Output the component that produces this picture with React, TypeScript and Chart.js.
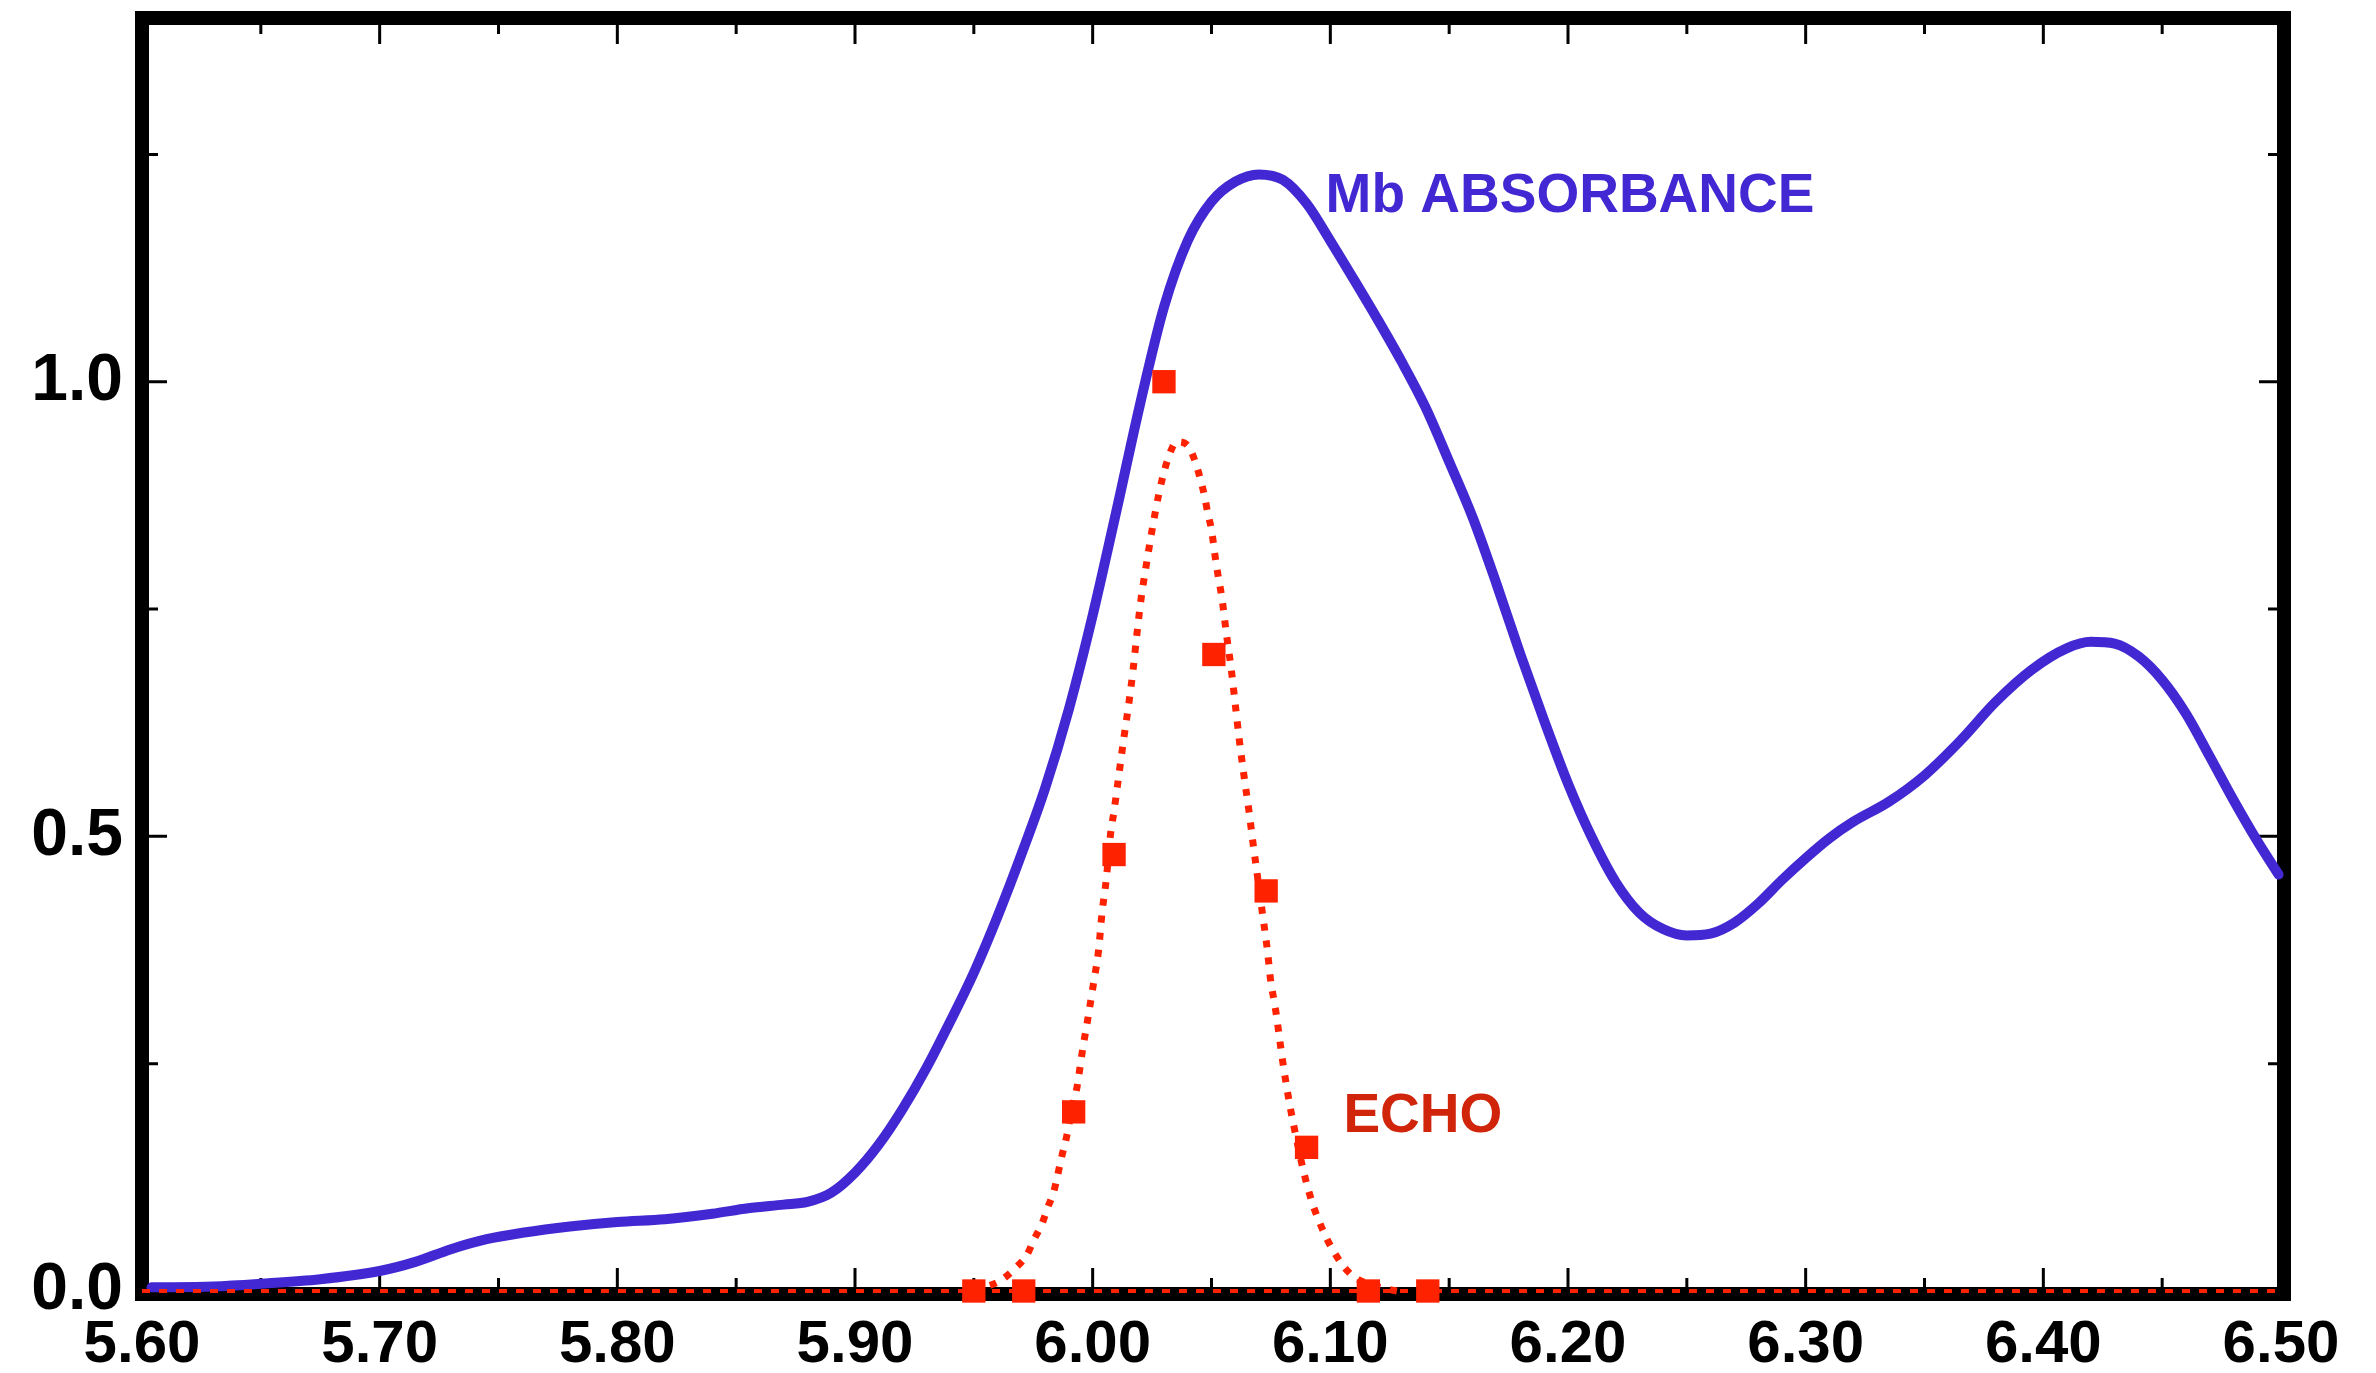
import React, { useEffect, useRef } from 'react';
import { Chart, registerables } from 'chart.js';

Chart.register(...registerables);

// ---- Data ----
const absorbanceX = [
  5.604, 5.63, 5.65, 5.675, 5.7, 5.715, 5.73, 5.745, 5.76, 5.78, 5.8, 5.82, 5.84, 5.855, 5.87, 5.88,
  5.89, 5.9, 5.91, 5.92, 5.93, 5.94, 5.95, 5.96, 5.97, 5.98, 5.99, 6.0, 6.01, 6.02, 6.03, 6.04, 6.05,
  6.06, 6.07, 6.08, 6.09, 6.1, 6.11, 6.12, 6.13, 6.14, 6.15, 6.16, 6.17, 6.18, 6.19, 6.2, 6.21, 6.22,
  6.23, 6.24, 6.25, 6.26, 6.27, 6.28, 6.29, 6.3, 6.31, 6.32, 6.335, 6.35, 6.365, 6.38, 6.395, 6.41,
  6.42, 6.43, 6.44, 6.45, 6.46, 6.47, 6.48, 6.49, 6.499,
];
const absorbanceY = [
  0.004, 0.005, 0.008, 0.013, 0.022, 0.032, 0.046, 0.057, 0.064, 0.071, 0.076, 0.079, 0.085, 0.091, 0.095, 0.098,
  0.108, 0.13, 0.161, 0.2, 0.245, 0.296, 0.35, 0.412, 0.48, 0.553, 0.64, 0.743, 0.858, 0.976, 1.082, 1.155, 1.198,
  1.22, 1.228, 1.222, 1.196, 1.155, 1.112, 1.068, 1.022, 0.972, 0.912, 0.85, 0.777, 0.7, 0.627, 0.558, 0.499, 0.45,
  0.416, 0.398, 0.391, 0.393, 0.405, 0.426, 0.452, 0.476, 0.498, 0.516, 0.538, 0.567, 0.605, 0.648, 0.683, 0.707,
  0.714, 0.712, 0.698, 0.672, 0.635, 0.588, 0.54, 0.495, 0.458,
];

const echoFitX = [
  5.95, 5.9555, 5.961, 5.9674, 5.9724, 5.9752, 5.9787, 5.9811, 5.9836, 5.9853, 5.9871, 5.9889, 5.991,
  5.9934, 5.9955, 5.998, 6.0004, 6.0025, 6.0039, 6.0057, 6.0075, 6.009, 6.011, 6.013, 6.0151, 6.017,
  6.0186, 6.0203, 6.0226, 6.025, 6.0278, 6.0313, 6.0355, 6.04, 6.0433, 6.0453, 6.047, 6.0484, 6.05,
  6.052, 6.0545, 6.0563, 6.0583, 6.06, 6.0617, 6.0636, 6.0657, 6.0675, 6.0695, 6.0715, 6.0735, 6.075,
  6.0763, 6.0775, 6.0785, 6.0795, 6.0805, 6.0816, 6.0829, 6.0843, 6.0865, 6.0888, 6.0908, 6.0929,
  6.0957, 6.0988, 6.102, 6.1056, 6.1098, 6.1168, 6.1224, 6.128,
];
const echoFitY = [
  0.0, 0.005, 0.011, 0.025, 0.04, 0.056, 0.074, 0.092, 0.109, 0.128, 0.149, 0.168, 0.197,
  0.224, 0.261, 0.3, 0.339, 0.375, 0.415, 0.452, 0.502, 0.528, 0.567, 0.606, 0.644, 0.683,
  0.722, 0.76, 0.799, 0.837, 0.876, 0.912, 0.934, 0.93, 0.911, 0.893, 0.875, 0.856, 0.837,
  0.799, 0.76, 0.722, 0.684, 0.645, 0.606, 0.568, 0.529, 0.492, 0.453, 0.414, 0.375, 0.339,
  0.32, 0.3, 0.28, 0.261, 0.243, 0.225, 0.205, 0.186, 0.158, 0.131, 0.111, 0.093,
  0.074, 0.056, 0.041, 0.027, 0.016, 0.007, 0.003, 0.0,
];

const echoPointX = [5.95, 5.971, 5.992, 6.009, 6.03, 6.051, 6.073, 6.09, 6.116, 6.141];
const echoPointY = [0.0, 0.0, 0.197, 0.48, 1.0, 0.7, 0.44, 0.158, 0.0, 0.0];

const baselineX = [5.6, 6.5];
const baselineY = [0, 0];

const xTickValues = [5.6, 5.7, 5.8, 5.9, 6.0, 6.1, 6.2, 6.3, 6.4, 6.5];
const xTickLabels = ['5.60', '5.70', '5.80', '5.90', '6.00', '6.10', '6.20', '6.30', '6.40', '6.50'];
const xMinorTicks = [5.65, 5.75, 5.85, 5.95, 6.05, 6.15, 6.25, 6.35, 6.45];
const yTickValues = [0, 0.5, 1.0];
const yTickLabels = ['0.0', '0.5', '1.0'];
const yMinorTicks = [0.25, 0.75, 1.25];

const X_MIN = 5.6;
const X_MAX = 6.5;
const Y_MIN = 0;
const Y_MAX = 1.4;

const absorbanceLabel = 'Mb ABSORBANCE';
const absorbanceLabelAt = { x: 6.098, y: 1.187 };
const echoLabel = 'ECHO';
const echoLabelAt = { x: 6.1055, y: 0.175 };

// ---- Styles ----
const BLUE = '#4228D2';
const RED = '#FF2200';
const ECHO_TEXT = '#D0240B';
const FONT = '"Liberation Sans", Arial, sans-serif';

const zip = (xs: number[], ys: number[]) => xs.map((x, i) => ({ x, y: ys[i] }));

const framePlugin = {
  id: 'frameAndTicks',
  beforeDatasetsDraw(chart: any) {
    const { ctx, chartArea: a, scales } = chart;
    const xs = scales.x;
    const ys = scales.y;
    const L = a.left;
    const T = a.top;
    const R = a.right + 3;
    const B = a.bottom + 3;
    const half = 7;
    ctx.save();
    ctx.strokeStyle = '#000';
    ctx.lineJoin = 'miter';
    ctx.lineWidth = 14;
    ctx.strokeRect(L, T, R - L, B - T);
    ctx.lineWidth = 3;
    ctx.lineCap = 'butt';
    ctx.beginPath();
    const xTick = (v: number, len: number) => {
      const px = xs.getPixelForValue(v);
      ctx.moveTo(px, B - half);
      ctx.lineTo(px, B - half - len);
      ctx.moveTo(px, T + half);
      ctx.lineTo(px, T + half + len);
    };
    const yTick = (v: number, len: number) => {
      const py = ys.getPixelForValue(v);
      ctx.moveTo(L + half, py);
      ctx.lineTo(L + half + len, py);
      ctx.moveTo(R - half, py);
      ctx.lineTo(R - half - len, py);
    };
    xTickValues.forEach((v) => xTick(v, 19));
    xMinorTicks.forEach((v) => xTick(v, 9));
    yTickValues.forEach((v) => yTick(v, 18));
    yMinorTicks.forEach((v) => yTick(v, 9));
    ctx.stroke();
    ctx.restore();
  },
};

const labelPlugin = {
  id: 'curveLabels',
  afterDatasetsDraw(chart: any) {
    const { ctx, scales } = chart;
    const xs = scales.x;
    const ys = scales.y;
    ctx.save();
    ctx.textAlign = 'left';
    ctx.textBaseline = 'alphabetic';
    ctx.font = `bold 55px ${FONT}`;
    ctx.fillStyle = BLUE;
    ctx.fillText(absorbanceLabel, xs.getPixelForValue(absorbanceLabelAt.x), ys.getPixelForValue(absorbanceLabelAt.y));
    ctx.fillStyle = ECHO_TEXT;
    ctx.fillText(echoLabel, xs.getPixelForValue(echoLabelAt.x), ys.getPixelForValue(echoLabelAt.y));
    ctx.restore();
  },
};

export default function App() {
  const canvasRef = useRef<HTMLCanvasElement | null>(null);

  useEffect(() => {
    const canvas = canvasRef.current;
    if (!canvas) return;
    const chart = new Chart(canvas, {
      type: 'line',
      data: {
        datasets: [
          {
            label: 'Echo points',
            data: zip(echoPointX, echoPointY),
            showLine: false,
            pointStyle: 'rect',
            pointRadius: 16.5,
            pointBorderWidth: 0,
            pointBackgroundColor: RED,
            borderColor: RED,
            backgroundColor: RED,
            clip: false,
          },
          {
            label: 'Echo fit',
            data: zip(echoFitX, echoFitY),
            borderColor: RED,
            borderWidth: 7,
            borderDash: [7, 10],
            borderCapStyle: 'butt',
            pointRadius: 0,
            cubicInterpolationMode: 'monotone',
            fill: false,
            clip: false,
          },
          {
            label: 'Echo baseline',
            data: zip(baselineX, baselineY),
            borderColor: RED,
            borderWidth: 4,
            borderDash: [8, 9],
            pointRadius: 0,
            fill: false,
            clip: false,
          },
          {
            label: 'Mb absorbance',
            data: zip(absorbanceX, absorbanceY),
            borderColor: BLUE,
            borderWidth: 10,
            borderCapStyle: 'round',
            borderJoinStyle: 'round',
            pointRadius: 0,
            cubicInterpolationMode: 'monotone',
            fill: false,
            clip: false,
          },
        ],
      },
      options: {
        responsive: false,
        animation: false,
        events: [],
        layout: { padding: { top: 18, right: 95, left: 0, bottom: 0 } },
        plugins: {
          legend: { display: false },
          tooltip: { enabled: false },
          title: { display: false },
        },
        scales: {
          x: {
            type: 'linear',
            position: 'bottom',
            min: X_MIN,
            max: X_MAX,
            grid: { display: false, drawTicks: false },
            border: { display: false },
            afterBuildTicks: (scale: any) => {
              scale.ticks = xTickValues.map((v) => ({ value: v }));
            },
            afterFit: (scale: any) => {
              scale.height = 82;
              scale.paddingLeft = 0;
              scale.paddingRight = 0;
            },
            ticks: {
              autoSkip: false,
              maxRotation: 0,
              minRotation: 0,
              padding: 18,
              color: '#000',
              font: { family: FONT, size: 60, weight: 'bold' },
              callback: (_v: any, i: number) => xTickLabels[i],
            },
          },
          y: {
            type: 'linear',
            position: 'left',
            min: Y_MIN,
            max: Y_MAX,
            grid: { display: false, drawTicks: false },
            border: { display: false },
            afterBuildTicks: (scale: any) => {
              scale.ticks = yTickValues.map((v) => ({ value: v }));
            },
            afterFit: (scale: any) => {
              scale.width = 142;
              scale.paddingTop = 0;
              scale.paddingBottom = 0;
            },
            ticks: {
              autoSkip: false,
              padding: 19,
              color: '#000',
              font: { family: FONT, size: 66, weight: 'bold' },
              callback: (_v: any, i: number) => yTickLabels[i],
            },
          },
        },
      },
      plugins: [framePlugin, labelPlugin],
    } as any);
    return () => chart.destroy();
  }, []);

  return (
    <div style={{ position: 'fixed', left: 0, top: 0, width: 2376, height: 1373, background: '#fff' }}>
      <canvas ref={canvasRef} width={2376} height={1373} style={{ width: 2376, height: 1373, display: 'block' }} />
    </div>
  );
}
